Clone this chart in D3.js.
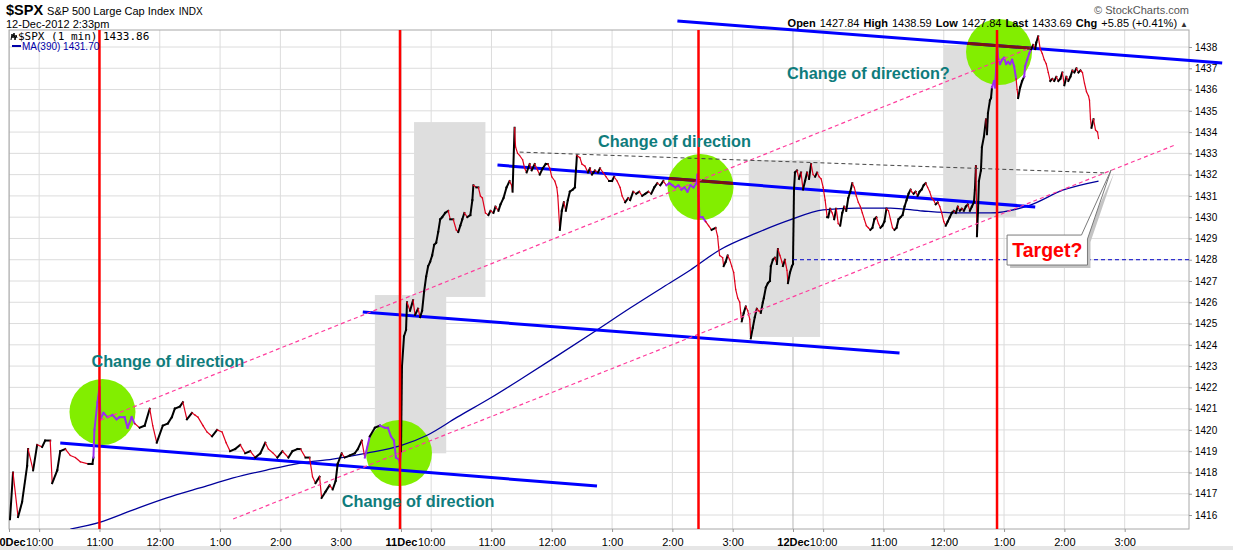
<!DOCTYPE html>
<html><head><meta charset="utf-8">
<script src="https://cdn.jsdelivr.net/npm/d3@7/dist/d3.min.js"></script>
<style>
html,body{margin:0;padding:0;background:#fff;}
svg{display:block;font-family:"Liberation Sans",Arial,sans-serif;}
</style></head><body>
<svg id="chart" width="1233" height="550"></svg>
<script>
// ---------------- DATA ----------------
// trading days and minute-of-session of each 1-minute close (390 min per session)
const days = ["10Dec", "11Dec", "12Dec"];
const sessionMinutes = 390;
const hourLabels = ["10:00", "11:00", "12:00", "1:00", "2:00", "3:00"];
const hourOffsets = [30, 90, 150, 210, 270, 330];
const yTicks = d3.range(1416, 1439);

const day1Prices = [[1,1415.8],[4,1418.0],[9,1415.9],[13,1416.6],[18,1418.3],[19,1419.1],[24,1418.1],[28,1419.3],[33,1419.2],[36,1419.5],[41,1419.5],[43,1417.5],[48,1418.1],[51,1419.0],[56,1419.1],[61,1418.8],[66,1418.7],[71,1418.5],[79,1418.4],[83,1418.4],[84,1418.7],[85,1420.0],[88,1421.3],[90,1422.0],[91,1420.5],[94,1420.8],[98,1420.6],[103,1420.7],[107,1420.5],[110,1420.6],[115,1420.6],[118,1420.1],[122,1420.6],[125,1420.3],[130,1420.1],[135,1420.2],[140,1421.0],[143,1420.2],[147,1419.4],[153,1420.2],[158,1420.3],[162,1420.6],[165,1421.0],[170,1421.1],[173,1421.3],[177,1420.5],[182,1420.8],[185,1420.7],[188,1420.6],[193,1420.2],[197,1419.9],[202,1419.7],[207,1420.0],[212,1419.9],[216,1419.4],[220,1419.0],[225,1419.1],[230,1419.3],[235,1418.9],[240,1419.0],[245,1418.7],[250,1418.9],[255,1419.4],[258,1419.1],[263,1418.9],[267,1418.7],[272,1419.0],[278,1418.7],[282,1419.0],[287,1419.1],[290,1419.1],[295,1418.7],[299,1418.7],[302,1417.8],[305,1417.5],[309,1417.8],[311,1416.8],[315,1417.1],[319,1417.4],[322,1417.2],[325,1417.6],[327,1418.4],[331,1418.9],[334,1418.7],[339,1418.8],[344,1418.9],[347,1419.1],[351,1419.5],[354,1418.7],[359,1419.7],[364,1420.1],[369,1420.2],[374,1420.1],[377,1420.1],[380,1419.7],[383,1419.5],[385,1418.7],[388,1418.6],[389,1418.4]];

const day2Prices = [[0,1419.0],[1,1423.0],[3,1424.4],[5,1424.7],[6,1426.0],[9,1425.6],[12,1426.1],[14,1425.4],[17,1425.7],[19,1425.3],[21,1425.6],[23,1426.5],[25,1427.2],[27,1427.7],[29,1427.9],[31,1428.2],[33,1428.7],[35,1428.8],[37,1429.3],[39,1429.9],[41,1430.0],[44,1430.2],[47,1430.3],[49,1429.9],[52,1429.9],[55,1429.4],[57,1429.3],[59,1429.6],[61,1429.9],[63,1430.2],[66,1430.0],[69,1430.1],[71,1430.8],[72,1431.5],[75,1431.4],[77,1431.4],[79,1431.0],[81,1430.9],[84,1430.2],[87,1430.1],[89,1430.3],[92,1430.2],[94,1430.5],[97,1430.3],[99,1430.6],[102,1430.9],[105,1431.4],[108,1431.7],[110,1431.5],[111,1431.2],[113,1434.2],[114,1433.3],[116,1433.0],[118,1432.9],[121,1432.7],[123,1432.3],[125,1432.1],[128,1432.5],[130,1432.2],[133,1432.5],[136,1432.2],[138,1432.0],[141,1432.3],[144,1432.5],[146,1432.5],[148,1432.3],[150,1431.9],[153,1431.7],[155,1431.4],[156,1431.0],[158,1429.4],[160,1430.3],[162,1430.7],[164,1430.3],[166,1430.8],[168,1431.2],[171,1431.3],[173,1431.4],[175,1432.9],[178,1432.8],[180,1432.5],[183,1432.4],[186,1432.1],[188,1432.3],[190,1432.0],[193,1432.2],[196,1432.1],[198,1432.3],[201,1432.1],[204,1431.9],[207,1431.7],[210,1431.7],[212,1431.9],[215,1431.7],[218,1431.4],[220,1431.0],[223,1430.7],[226,1430.9],[228,1430.8],[231,1431.2],[234,1431.1],[237,1431.2],[240,1431.0],[243,1431.1],[246,1431.2],[249,1431.1],[252,1431.4],[255,1431.6],[258,1431.5],[261,1431.7],[264,1431.5],[267,1431.6],[270,1431.5],[273,1431.4],[276,1431.5],[279,1431.3],[282,1431.4],[285,1431.2],[288,1431.5],[291,1431.4],[294,1431.6],[295,1432.0],[296,1431.0],[297,1430.0],[300,1430.0],[303,1429.8],[306,1429.6],[309,1429.4],[313,1429.5],[315,1429.1],[316,1428.6],[317,1428.2],[320,1428.1],[321,1427.7],[323,1427.9],[325,1428.2],[327,1428.0],[329,1427.7],[331,1427.4],[332,1427.0],[333,1426.6],[335,1426.2],[337,1426.0],[338,1425.5],[339,1425.1],[341,1425.5],[343,1425.8],[345,1425.6],[347,1425.2],[348,1424.3],[350,1424.8],[352,1425.3],[354,1425.7],[356,1425.6],[358,1425.5],[360,1426.0],[361,1426.2],[363,1426.7],[365,1426.9],[367,1427.0],[368,1427.7],[370,1428.0],[372,1428.1],[374,1427.8],[375,1428.5],[377,1428.2],[379,1427.9],[380,1427.7],[382,1428.0],[384,1427.5],[385,1426.9],[387,1427.4],[389,1427.7]];

const day3Prices = [[0,1427.8],[1,1431.3],[2,1432.1],[4,1432.2],[6,1431.8],[8,1432.1],[10,1431.3],[12,1431.7],[14,1432.1],[16,1431.8],[18,1432.5],[20,1432.0],[22,1431.9],[24,1432.1],[26,1431.9],[28,1431.8],[30,1431.4],[32,1430.8],[34,1430.0],[35,1430.0],[37,1430.4],[39,1430.2],[41,1429.9],[43,1430.4],[45,1429.7],[47,1429.6],[49,1430.2],[51,1430.5],[53,1430.3],[55,1430.9],[57,1431.2],[59,1431.6],[61,1431.4],[63,1431.0],[65,1430.7],[67,1430.5],[69,1430.2],[71,1429.9],[73,1429.6],[75,1429.5],[77,1429.4],[79,1429.5],[81,1429.9],[83,1430.0],[85,1429.7],[87,1429.5],[89,1429.6],[91,1429.8],[93,1430.4],[95,1430.3],[97,1429.9],[99,1429.5],[101,1429.4],[103,1429.5],[105,1429.9],[107,1430.0],[109,1430.1],[111,1430.5],[113,1430.8],[115,1431.1],[117,1431.3],[118,1431.2],[120,1431.1],[122,1431.2],[124,1431.0],[126,1431.2],[128,1431.3],[130,1431.5],[132,1431.6],[134,1431.4],[136,1431.2],[138,1430.9],[140,1430.8],[142,1430.6],[144,1430.7],[146,1430.5],[148,1430.2],[150,1429.8],[152,1429.6],[154,1429.8],[156,1430.0],[158,1430.2],[160,1430.3],[162,1430.2],[164,1430.5],[166,1430.3],[168,1430.4],[170,1430.3],[172,1430.5],[174,1430.6],[176,1430.3],[178,1430.5],[180,1430.7],[181,1431.3],[182,1432.4],[183,1429.1],[184,1430.2],[185,1431.7],[187,1432.2],[188,1433.3],[190,1433.8],[192,1434.6],[193,1433.9],[194,1434.9],[196,1435.5],[197,1435.6],[198,1436.1],[200,1436.4],[201,1436.1],[202,1436.9],[203,1438.3],[204,1437.5],[206,1437.2],[208,1437.4],[210,1437.5],[212,1437.2],[214,1437.3],[216,1437.2],[218,1437.4],[220,1437.1],[222,1436.5],[223,1436.0],[224,1435.6],[226,1436.1],[228,1436.4],[230,1436.6],[231,1437.1],[233,1437.4],[235,1437.7],[237,1437.9],[239,1438.1],[241,1437.9],[242,1438.2],[244,1438.5],[246,1437.9],[248,1437.7],[250,1437.4],[252,1437.2],[254,1436.8],[256,1436.4],[258,1436.5],[260,1436.4],[262,1436.6],[264,1436.4],[266,1436.5],[268,1436.8],[270,1436.2],[272,1436.6],[274,1436.4],[276,1436.6],[278,1436.9],[280,1436.8],[282,1437.0],[284,1436.8],[286,1436.9],[288,1436.8],[290,1436.3],[292,1435.9],[294,1435.7],[295,1435.5],[296,1434.6],[297,1434.2],[299,1434.6],[301,1434.1],[303,1434.0],[304,1433.7]];

// MA(390) readings [absolute minute, value]
const maSeries = [[61,1415.34],[91,1415.67],[123,1416.23],[157,1416.80],[190,1417.27],[223,1417.74],[257,1418.12],[290,1418.44],[322,1418.63],[356,1418.91],[389,1419.25],[416,1419.75],[446,1420.6],[479,1421.5],[511,1422.44],[545,1423.47],[585,1424.70],[618,1425.73],[651,1426.72],[678,1427.52],[707,1428.46],[744,1429.26],[777,1429.87],[810,1430.34],[844,1430.43],[877,1430.43],[909,1430.29],[943,1430.20],[976,1430.20],[1016,1430.57],[1049,1431.28],[1084,1431.70]];

// annotations in data units: [minute1, price1, minute2, price2]
const trendLines = [[51,1419.38,585,1417.36],[352,1425.54,886,1423.61],[486,1432.45,1021,1430.48],[665,1439.22,1207,1437.25]];
const pinkLines = [[91,1420.46,1016,1437.95],[223,1415.81,1160,1433.39]];
const levelDashed = [[508,1433.06,1090,1432.08]];
const blueDashed = [[780,1428.0,1174,1428.0]];
const redMarkers = [90, 389, 686, 983];
const grayBoxes = [[364,435,1426.34,1418.9],[403,474,1434.47,1426.25],[736,807,1432.69,1424.37],[930,1002,1438.09,1430.0]];
const circles = [[93,1420.84],[388,1418.91],[688,1431.42],[985,1437.76]];
const notes = [["Change of direction",82,1422.96],["Change of direction",331,1416.37],["Change of direction",586,1433.30],["Change of direction?",774,1436.50]];
const target = {label:"Target?", m1:993, m2:1073, pTop:1429.16, pBot:1427.75, tipM:1096.5, tipP:1432.22};

const header = {sym:"$SPX", name:"S&P 500 Large Cap Index", exch:"INDX", date:"12-Dec-2012 2:33pm"};
const quote = [["Open","1427.84"],["High","1438.59"],["Low","1427.84"],["Last","1433.69"],["Chg","+5.85 (+0.41%)"]];
const legendLast = "1433.86", maLast = "1431.70";

// ---------------- SCALES ----------------
const svg = d3.select("#chart");
const PL = 9, PR = 1189, PT = 30, PB = 529;
const x = d3.scaleLinear().domain([0, 1174]).range([PL, PR]);
const y = d3.scaleLinear().domain([1416, 1438]).range([515, 47]);
const R = 33;

const prices = [];
[day1Prices, day2Prices, day3Prices].forEach((d, i) => d.forEach(([m, p]) => prices.push([m + i * sessionMinutes, p])));

svg.append("rect").attr("width", 1233).attr("height", 550).attr("fill", "#fff");
svg.append("rect").attr("x", 0).attr("y", 546).attr("width", 1233).attr("height", 4).attr("fill", "#e6e6e6");

const defs = svg.append("defs");
defs.append("clipPath").attr("id", "plotClip").append("rect")
  .attr("x", PL).attr("y", PT).attr("width", PR - PL).attr("height", PB - PT);
const cc = defs.append("clipPath").attr("id", "circClip");
circles.forEach(c => cc.append("circle").attr("cx", x(c[0])).attr("cy", y(c[1])).attr("r", R));

// ---------------- GRID ----------------
const grid = svg.append("g").attr("clip-path", "url(#plotClip)");
grid.selectAll(".hg").data(yTicks).join("line")
  .attr("x1", PL).attr("x2", PR).attr("y1", d => y(d)).attr("y2", d => y(d))
  .attr("stroke", "#dcdcdc").attr("stroke-width", 1);
const hourMins = [];
days.forEach((d, i) => hourOffsets.forEach(h => hourMins.push(i * sessionMinutes + h)));
grid.selectAll(".vg").data(hourMins).join("line")
  .attr("x1", d => x(d)).attr("x2", d => x(d)).attr("y1", PT).attr("y2", PB)
  .attr("stroke", "#dcdcdc").attr("stroke-width", 1);
grid.selectAll(".dg").data(days.map((d, i) => i * sessionMinutes)).join("line")
  .attr("x1", d => x(d)).attr("x2", d => x(d)).attr("y1", PT).attr("y2", PB)
  .attr("stroke", "#b8b8b8").attr("stroke-width", 1);

// border
svg.append("rect").attr("x", PL).attr("y", PT).attr("width", PR - PL).attr("height", PB - PT)
  .attr("fill", "none").attr("stroke", "#a8a8a8").attr("stroke-width", 1);

// ---------------- ANNOTATION BACKGROUNDS ----------------
svg.selectAll(".gbox").data(grayBoxes).join("rect")
  .attr("x", d => x(d[0])).attr("width", d => x(d[1]) - x(d[0]))
  .attr("y", d => y(d[2])).attr("height", d => y(d[3]) - y(d[2]))
  .attr("fill", "#dedede");

svg.selectAll(".circ").data(circles).join("circle")
  .attr("cx", d => x(d[0])).attr("cy", d => y(d[1])).attr("r", R)
  .attr("fill", "#82ee00");

// MA line
svg.append("path").datum(maSeries).attr("clip-path", "url(#plotClip)")
  .attr("d", d3.line().x(d => x(d[0])).y(d => y(d[1])).curve(d3.curveMonotoneX))
  .attr("fill", "none").attr("stroke", "#00009c").attr("stroke-width", 1.3);

// blue trend lines
const seg = sel => sel.attr("x1", d => x(d[0])).attr("y1", d => y(d[1])).attr("x2", d => x(d[2])).attr("y2", d => y(d[3]));
svg.selectAll(".tl").data(trendLines).join("line").call(seg)
  .attr("stroke", "#0000ff").attr("stroke-width", 3);
svg.append("g").attr("clip-path", "url(#circClip)").selectAll("line").data(trendLines.slice(2)).join("line").call(seg)
  .attr("stroke", "#7a1212").attr("stroke-width", 3);

// ---------------- PRICE ----------------
const inCircle = (px, py) => circles.some(c => Math.hypot(px - x(c[0]), py - y(c[1])) < R);
const segs = [];
for (let i = 0; i < prices.length - 1; i++) {
  const a = prices[i], b = prices[i + 1];
  const mx = (x(a[0]) + x(b[0])) / 2, my = (y(a[1]) + y(b[1])) / 2;
  const purple = inCircle(mx, my);
  segs.push({a, b, color: purple ? "#9a2cf2" : (b[1] >= a[1] ? "#000" : "#e0001c"), w: purple ? 2 : (b[1] >= a[1] ? 2 : 1.2)});
}
svg.append("g").attr("clip-path", "url(#plotClip)").selectAll("line").data(segs).join("line")
  .attr("x1", d => x(d.a[0])).attr("y1", d => y(d.a[1])).attr("x2", d => x(d.b[0])).attr("y2", d => y(d.b[1]))
  .attr("stroke", d => d.color).attr("stroke-width", d => d.w).attr("stroke-linecap", "square");

// dashed lines
svg.selectAll(".pl").data(pinkLines).join("line").call(seg)
  .attr("stroke", "#ff3c9c").attr("stroke-width", 1.2).attr("stroke-dasharray", "4,3");
svg.selectAll(".ld").data(levelDashed).join("line").call(seg)
  .attr("stroke", "#444").attr("stroke-width", 1).attr("stroke-dasharray", "4,3");
svg.selectAll(".bd").data(blueDashed).join("line").call(seg)
  .attr("stroke", "#0000c8").attr("stroke-width", 1).attr("stroke-dasharray", "4,3");

// red verticals
svg.selectAll(".rv").data(redMarkers).join("line")
  .attr("x1", d => x(d)).attr("x2", d => x(d)).attr("y1", PT).attr("y2", PB)
  .attr("stroke", "#ff0000").attr("stroke-width", 2.5);

// notes
svg.selectAll(".note").data(notes).join("text")
  .attr("x", d => x(d[1])).attr("y", d => y(d[2]))
  .attr("font-size", 16.3).attr("font-weight", "bold").attr("fill", "#0f7c7c").text(d => d[0]);

// target callout
{
  const L = x(target.m1), Rr = x(target.m2), T = y(target.pTop), B = y(target.pBot);
  const tx = x(target.tipM), ty = y(target.tipP);
  const path = `M${L},${T}L${Rr - 6},${T}L${tx},${ty}L${Rr},${T + 4}L${Rr},${B}L${L},${B}Z`;
  svg.append("path").attr("d", path).attr("transform", "translate(3,3)").attr("fill", "#c4c4c4");
  svg.append("path").attr("d", path).attr("fill", "#fff").attr("stroke", "#7a7a7a").attr("stroke-width", 1);
  svg.append("text").attr("x", (L + Rr) / 2).attr("y", B - 8).attr("text-anchor", "middle")
    .attr("font-size", 19.5).attr("font-weight", "bold").attr("fill", "#ff0000").text(target.label);
}

// ---------------- AXES ----------------
const yAxis = d3.axisRight(y).tickValues(yTicks).tickSize(3).tickPadding(3).tickFormat(d3.format("d"));
const ya = svg.append("g").attr("transform", `translate(${PR},0)`).call(yAxis);
ya.select(".domain").remove();
ya.selectAll("line").attr("stroke", "#999");
ya.selectAll("text").attr("font-size", 10).attr("fill", "#000").attr("font-family", '"Liberation Sans",Arial,sans-serif');

const xTickVals = [];
days.forEach((d, i) => { xTickVals.push(i * sessionMinutes); hourOffsets.forEach(h => xTickVals.push(i * sessionMinutes + h)); });
const xAxis = d3.axisBottom(x).tickValues(xTickVals).tickSize(3).tickPadding(6)
  .tickFormat(d => d % sessionMinutes === 0 ? days[d / sessionMinutes] : hourLabels[hourOffsets.indexOf(d % sessionMinutes)]);
const xa = svg.append("g").attr("transform", `translate(0,${PB})`).call(xAxis);
xa.select(".domain").remove();
xa.selectAll("line").attr("stroke", "#999");
xa.selectAll("text").attr("font-size", 11).attr("fill", "#000").attr("font-family", '"Liberation Sans",Arial,sans-serif')
  .attr("font-weight", d => d % sessionMinutes === 0 ? "bold" : "normal");

// ---------------- HEADER / LEGEND ----------------
const h1 = svg.append("text").attr("x", 6).attr("y", 15).attr("fill", "#000");
h1.append("tspan").attr("font-size", 14.5).attr("font-weight", "bold").text(header.sym);
h1.append("tspan").attr("font-size", 11).attr("dx", 4).text(header.name);
h1.append("tspan").attr("font-size", 10).attr("dx", 4).text(header.exch);
svg.append("text").attr("x", 6).attr("y", 28).attr("font-size", 11).text(header.date);

const q = svg.append("text").attr("x", 1188).attr("y", 27).attr("text-anchor", "end").attr("font-size", 11).attr("fill", "#000");
quote.forEach(([k, v], i) => {
  q.append("tspan").attr("font-weight", "bold").attr("dx", i ? 4 : 0).text(k);
  q.append("tspan").attr("dx", 4).text(v);
});
q.append("tspan").attr("dx", 3).attr("font-size", 8).attr("fill", "#333").text("▲");
svg.append("text").attr("x", 1189).attr("y", 14).attr("text-anchor", "end").attr("font-size", 11)
  .attr("fill", "#555").text("© StockCharts.com");

// legend
svg.append("path").attr("d", "M11,40L12,34L13,38L14,33L15,40L16,35L17,38").attr("fill", "none").attr("stroke", "#000").attr("stroke-width", 1);
svg.append("text").attr("x", 18).attr("y", 40).attr("font-size", 11).attr("font-family", '"DejaVu Sans Mono",monospace')
  .text("$SPX (1 min)");
svg.append("text").attr("x", 103).attr("y", 40).attr("font-size", 11).attr("font-family", '"DejaVu Sans Mono",monospace')
  .text(legendLast);
svg.append("line").attr("x1", 12).attr("x2", 21).attr("y1", 46).attr("y2", 46).attr("stroke", "#0000a8").attr("stroke-width", 2);
svg.append("text").attr("x", 22).attr("y", 50).attr("font-size", 10).attr("fill", "#0000a8").text("MA(390) " + maLast);
</script>
</body></html>
